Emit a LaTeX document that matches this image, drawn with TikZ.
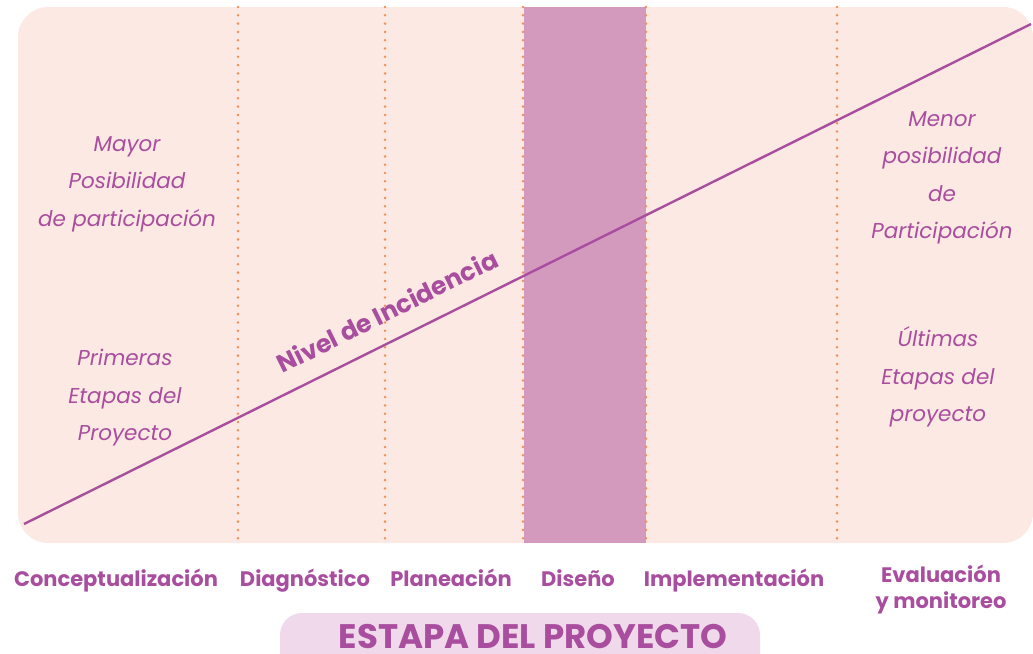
\documentclass[tikz,border=0pt]{standalone}
\usepackage{fontspec}
\setmainfont{Poppins}
\definecolor{bgpink}{HTML}{FCE9E3}
\definecolor{band}{HTML}{D39ABE}
\definecolor{plum}{HTML}{A94E9E}
\definecolor{dotc}{HTML}{F0905A}
\definecolor{pill}{HTML}{EFD9EA}
\begin{document}
\begin{tikzpicture}[x=1pt,y=-1pt,
  dotline/.style={dotc,line width=2.8pt,line cap=round,dash pattern=on 0pt off 8.3pt},
  sidetxt/.style={text=plum,font=\fontsize{21.5}{37.5}\selectfont\itshape,align=center,inner sep=0pt},
  stagetxt/.style={text=plum,font=\fontsize{21}{26}\selectfont\bfseries,align=center,inner sep=0pt,anchor=base}]
\useasboundingbox (0,0) rectangle (1033,653);
\begin{scope}
\clip (0,0) rectangle (1033,653);
\fill[bgpink,rounded corners=30pt] (18,7) rectangle (1033,543);
\fill[band] (524,7) rectangle (646,543);
\foreach \xx in {238,385,523,646,837} \draw[dotline] (\xx,7) -- (\xx,543);
\fill[pill,rounded corners=22pt] (280,613) rectangle (760,680);
\end{scope}
\coordinate (a) at (24,524);
\coordinate (b) at (1031,24);
\draw[plum,line width=2.4pt] (a) -- (b);
\node[text=plum,font=\fontsize{25}{25}\selectfont\bfseries,rotate=26.4,inner sep=0pt] (nivel) at (387,311) {Nivel de Incidencia};
\node[sidetxt] (mayor) at (127,184) {Mayor\\Posibilidad\\de participación};
\node[sidetxt] (primeras) at (125,398) {Primeras\\Etapas del\\Proyecto};
\node[sidetxt] (menor) at (942,178) {Menor\\posibilidad\\de\\Participación};
\node[sidetxt] (ultimas) at (938,377) {Últimas\\Etapas del\\proyecto};
\node[stagetxt] (s1) at (116,586) {Conceptualización};
\node[stagetxt] (s2) at (305,586) {Diagnóstico};
\node[stagetxt] (s3) at (451,586) {Planeación};
\node[stagetxt] (s4) at (578,586) {Diseño};
\node[stagetxt] (s5) at (734,586) {Implementación};
\node[text=plum,font=\fontsize{21}{26}\selectfont\bfseries,align=center,inner sep=0pt] (s6) at (941,590) {Evaluación\\y monitoreo};
\node[text=plum,font=\fontsize{34}{36}\selectfont\bfseries,anchor=base,inner sep=0pt] (titulo) at (533,648) {ESTAPA DEL PROYECTO};
\end{tikzpicture}
\end{document}
